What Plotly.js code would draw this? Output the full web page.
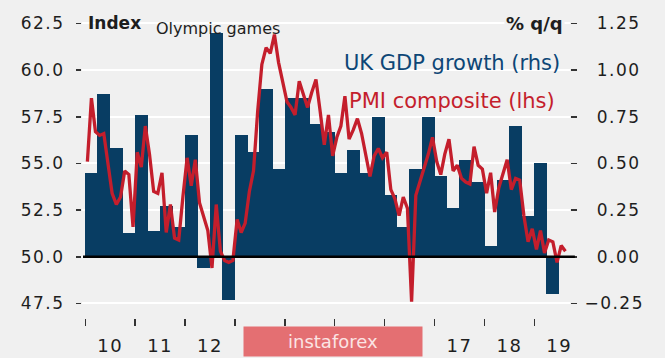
<!DOCTYPE html>
<html><head><meta charset="utf-8">
<script src="https://cdn.plot.ly/plotly-3.0.1.min.js"></script>
<style>
html,body{margin:0;padding:0;background:#f0f0f0;}
.xtick text,.ytick text,.y2tick text{letter-spacing:1.5px;}
</style>
</head><body><div id="chart" style="width:665px;height:358px;"></div>
<script>
// PMI composite (lhs), monthly, starting Jan 2010
const pmiStartYear = 2010, pmiStartMonth = 1;
const pmiComposite = [
 55.1,58.5,56.7,56.5,56.6,55.0,53.4,52.8,53.2,54.6,54.4,51.6,
 55.6,54.8,57.0,55.5,53.5,53.4,54.5,51.3,52.8,51.0,50.9,53.2,
 55.3,53.8,55.2,52.9,52.2,51.4,49.4,52.8,50.3,49.8,49.7,49.8,
 52.0,51.3,51.8,53.5,54.6,57.8,60.3,61.2,60.9,61.9,60.4,59.4,
 58.3,58.0,57.6,59.4,58.7,58.0,58.8,59.5,57.8,56.0,57.6,55.4,
 56.4,57.0,58.6,56.3,56.8,57.4,56.6,55.4,54.3,55.4,55.8,55.3,
 55.6,53.6,53.1,52.2,53.2,52.6,47.6,53.3,54.0,54.8,55.5,56.4,
 55.1,54.4,55.5,56.3,54.6,54.9,54.2,54.0,53.9,55.9,54.9,54.7,
 53.4,54.5,52.4,53.7,54.5,55.2,53.6,54.2,54.1,52.2,50.8,51.5,
 50.4,51.4,50.2,50.9,50.8,49.7,50.6,50.3
];
// UK GDP growth (rhs), % q/q, quarterly, starting 2010 Q1
const gdpStartYear = 2010, gdpStartQuarter = 1;
const gdpGrowth = [
 0.45,0.87,0.58,0.13, 0.76,0.14,0.27,0.16, 0.65,-0.06,1.20,-0.23,
 0.65,0.56,0.90,0.47, 0.85,0.85,0.71,0.67, 0.45,0.57,0.45,0.75,
 0.33,0.16,0.47,0.75, 0.43,0.26,0.52,0.40, 0.06,0.41,0.70,0.22,
 0.50,-0.20
];
const pmiTickVals = [47.5,50,52.5,55,57.5,60,62.5];
const gdpTickVals = [-0.25,0,0.25,0.5,0.75,1,1.25];
const gdpTickText = ['\u22120.25','\u20070.00','\u20070.25','\u20070.50','\u20070.75','\u20071.00','\u20071.25'];
// year labels hidden behind the watermark in the reference
const hiddenYearLabels = ['13','14','15','16'];

const pmiX = pmiComposite.map((_, i) => {
  const a = Date.UTC(pmiStartYear, pmiStartMonth - 1 + i, 1);
  const b = Date.UTC(pmiStartYear, pmiStartMonth + i, 1);
  return (a + b) / 2;
});
const gdpX = [], gdpW = [];
gdpGrowth.forEach((_, i) => {
  const a = Date.UTC(gdpStartYear, (gdpStartQuarter - 1 + i) * 3, 1);
  const b = Date.UTC(gdpStartYear, (gdpStartQuarter + i) * 3, 1);
  gdpX.push((a + b) / 2); gdpW.push((b - a) * 1.04);
});
const alias = {};
hiddenYearLabels.forEach(t => { alias[t] = ''; });

const barColor = '#083d63', lineColor = '#c41e2c', bg = '#f0f0f0', txt = '#1e1e1e';

const traces = [
  {type:'bar', x:gdpX, y:gdpGrowth, width:gdpW, yaxis:'y', xaxis:'x',
   marker:{color:barColor, line:{width:0}}, hoverinfo:'skip'},
  {type:'scatter', mode:'lines', x:pmiX, y:pmiComposite, yaxis:'y2', xaxis:'x',
   line:{color:lineColor, width:3.3}, hoverinfo:'skip'}
];

const layout = {
  width:665, height:358, margin:{l:82, r:95, t:15, b:40, pad:0},
  paper_bgcolor:bg, plot_bgcolor:bg, showlegend:false, bargap:0, barmode:'overlay',
  font:{family:'DejaVu Sans', color:txt, size:17},
  xaxis:{type:'date', range:['2009-12-08','2019-09-19'], dtick:'M12', tick0:'2010-01-01',
    tickformat:'%y', ticklabelmode:'period', ticks:'outside', ticklen:7, tickwidth:1.5,
    tickcolor:'#333', showgrid:false, zeroline:false, showline:false, labelalias:alias,
    tickfont:{size:18, color:txt}, ticklabelstandoff:4},
  yaxis:{side:'right', range:[-0.328,1.295], tickvals:gdpTickVals, ticktext:gdpTickText,
    ticks:'outside', ticklen:6, tickwidth:1.5, tickcolor:'#333',
    showgrid:true, gridcolor:'#ffffff', gridwidth:2, zeroline:false, showline:false,
    tickfont:{size:17, color:txt}, ticklabelstandoff:4},
  yaxis2:{overlaying:'y', side:'left', range:[46.72,62.95], tickvals:pmiTickVals, tickformat:'.1f',
    ticks:'outside', ticklen:5, tickwidth:1.5, tickcolor:'#333',
    showgrid:false, zeroline:false, showline:false,
    tickfont:{size:17, color:txt}, ticklabelstandoff:8},
  shapes:[{type:'line', xref:'paper', yref:'y', x0:0.002, x1:1.01, y0:0, y1:0,
    line:{color:'#000', width:2.5}, layer:'above'}],
  annotations:[
    {text:'Index', xref:'paper', yref:'y2', x:0.008, y:62.5, xanchor:'left', yanchor:'middle',
     showarrow:false, font:{size:17, weight:'bold', color:txt}},
    {text:'Olympic games', xref:'paper', yref:'paper', x:0.2797, y:0.955, xanchor:'center', yanchor:'middle',
     showarrow:false, font:{size:16, color:txt}},
    {text:'% q/q', xref:'paper', yref:'y', x:0.99, y:1.25, xanchor:'right', yanchor:'middle',
     showarrow:false, bgcolor:bg, font:{size:18, weight:'bold', color:txt}},
    {text:'UK GDP growth (rhs)', xref:'paper', yref:'paper', x:0.9836, y:0.8416, xanchor:'right', yanchor:'middle',
     showarrow:false, font:{size:21, color:'#0d4676'}},
    {text:'PMI composite (lhs)', xref:'paper', yref:'paper', x:0.9734, y:0.716, xanchor:'right', yanchor:'middle',
     showarrow:false, font:{size:21, color:lineColor}},
    {text:'instaforex', xref:'paper', yref:'paper', x:0.5143, y:-0.0776, xanchor:'center', yanchor:'middle',
     showarrow:false, width:178, height:29, borderpad:0, bgcolor:'#e46f72',
     font:{size:18, color:'#fbe4e4'}}
  ]
};
Plotly.newPlot('chart', traces, layout, {staticPlot:true, displayModeBar:false});
</script></body></html>
